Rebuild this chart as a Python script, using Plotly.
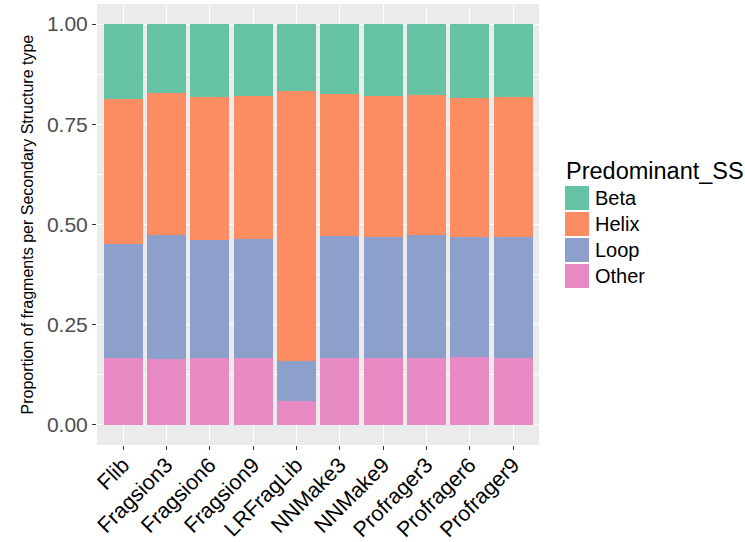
import plotly.graph_objects as go

categories = ["Flib", "Fragsion3", "Fragsion6", "Fragsion9", "LRFragLib",
              "NNMake3", "NNMake9", "Profrager3", "Profrager6", "Profrager9"]
other = [0.168, 0.165, 0.167, 0.168, 0.061, 0.167, 0.168, 0.167, 0.170, 0.168]
loop = [0.284, 0.309, 0.295, 0.297, 0.099, 0.305, 0.300, 0.307, 0.298, 0.302]
helix = [0.361, 0.354, 0.356, 0.356, 0.674, 0.353, 0.353, 0.350, 0.348, 0.349]
beta = [0.187, 0.172, 0.182, 0.179, 0.166, 0.175, 0.179, 0.176, 0.184, 0.181]
series_names = ["Beta", "Helix", "Loop", "Other"]
colors = {"Beta": "#66C2A5", "Helix": "#FC8D62", "Loop": "#8DA0CB", "Other": "#E78AC3"}
yticks = [0.0, 0.25, 0.5, 0.75, 1.0]
ytick_labels = ["0.00", "0.25", "0.50", "0.75", "1.00"]

FONT = "Liberation Sans, Arial, sans-serif"
W, H = 745, 542
L, R, T, B = 97, 206, 4, 97
pw, ph = W - L - R, H - T - B

fig = go.Figure()
for name, vals in [("Other", other), ("Loop", loop), ("Helix", helix), ("Beta", beta)]:
    fig.add_trace(go.Bar(x=categories, y=vals, name=name,
                         marker=dict(color=colors[name], line=dict(width=0)),
                         showlegend=False))

def px_x(px):
    return (px - L) / pw

def px_y(py):
    return (H - B - py) / ph

shapes = []
annotations = []
# custom legend (ggplot-like keys)
annotations.append(dict(text="Predominant_SS", x=px_x(564), y=px_y(171), xref="paper", yref="paper",
                        xanchor="left", yanchor="middle", showarrow=False,
                        font=dict(family=FONT, size=23.5, color="#000000")))
for i, name in enumerate(series_names):
    top = 186 + 26 * i
    shapes.append(dict(type="rect", xref="paper", yref="paper",
                       x0=px_x(565), x1=px_x(589), y0=px_y(top + 24), y1=px_y(top),
                       fillcolor=colors[name], line=dict(width=0)))
    annotations.append(dict(text=name, x=px_x(593), y=px_y(top + 12), xref="paper", yref="paper",
                            xanchor="left", yanchor="middle", showarrow=False,
                            font=dict(family=FONT, size=20, color="#000000")))
annotations.append(dict(text="Proportion of fragments per Secondary Structure type",
                        x=px_x(27), y=0.5, xref="paper", yref="paper", textangle=-90,
                        xanchor="center", yanchor="middle", showarrow=False,
                        font=dict(family=FONT, size=16, color="#000000")))

fig.update_layout(
    width=W, height=H,
    margin=dict(l=L, r=R, t=T, b=B, autoexpand=False),
    barmode="stack", bargap=0.1,
    plot_bgcolor="#EBEBEB", paper_bgcolor="#FFFFFF",
    font=dict(family=FONT),
    shapes=shapes, annotations=annotations,
    showlegend=False,
)
fig.update_xaxes(range=[-0.6, 9.6], showgrid=True, gridcolor="#FFFFFF", gridwidth=1.4,
                 ticks="outside", ticklen=4, tickcolor="#333333", tickwidth=1,
                 tickangle=-45, tickfont=dict(family=FONT, size=21.5, color="#000000"),
                 ticklabelstandoff=-6,
                 zeroline=False, showline=False)
fig.update_yaxes(range=[-0.05, 1.05], tickvals=yticks, ticktext=ytick_labels,
                 showgrid=True, gridcolor="#FFFFFF", gridwidth=1.4,
                 minor=dict(tickvals=[0.125, 0.375, 0.625, 0.875], showgrid=True,
                            gridcolor="#FFFFFF", gridwidth=0.7, ticks=""),
                 ticks="outside", ticklen=4, tickcolor="#333333", tickwidth=1,
                 tickfont=dict(family=FONT, size=21, color="#4D4D4D"),
                 zeroline=False, showline=False)

fig.write_html("out.html", config={"displayModeBar": False},
               post_script="document.body.style.margin='0';document.body.style.padding='0';")
